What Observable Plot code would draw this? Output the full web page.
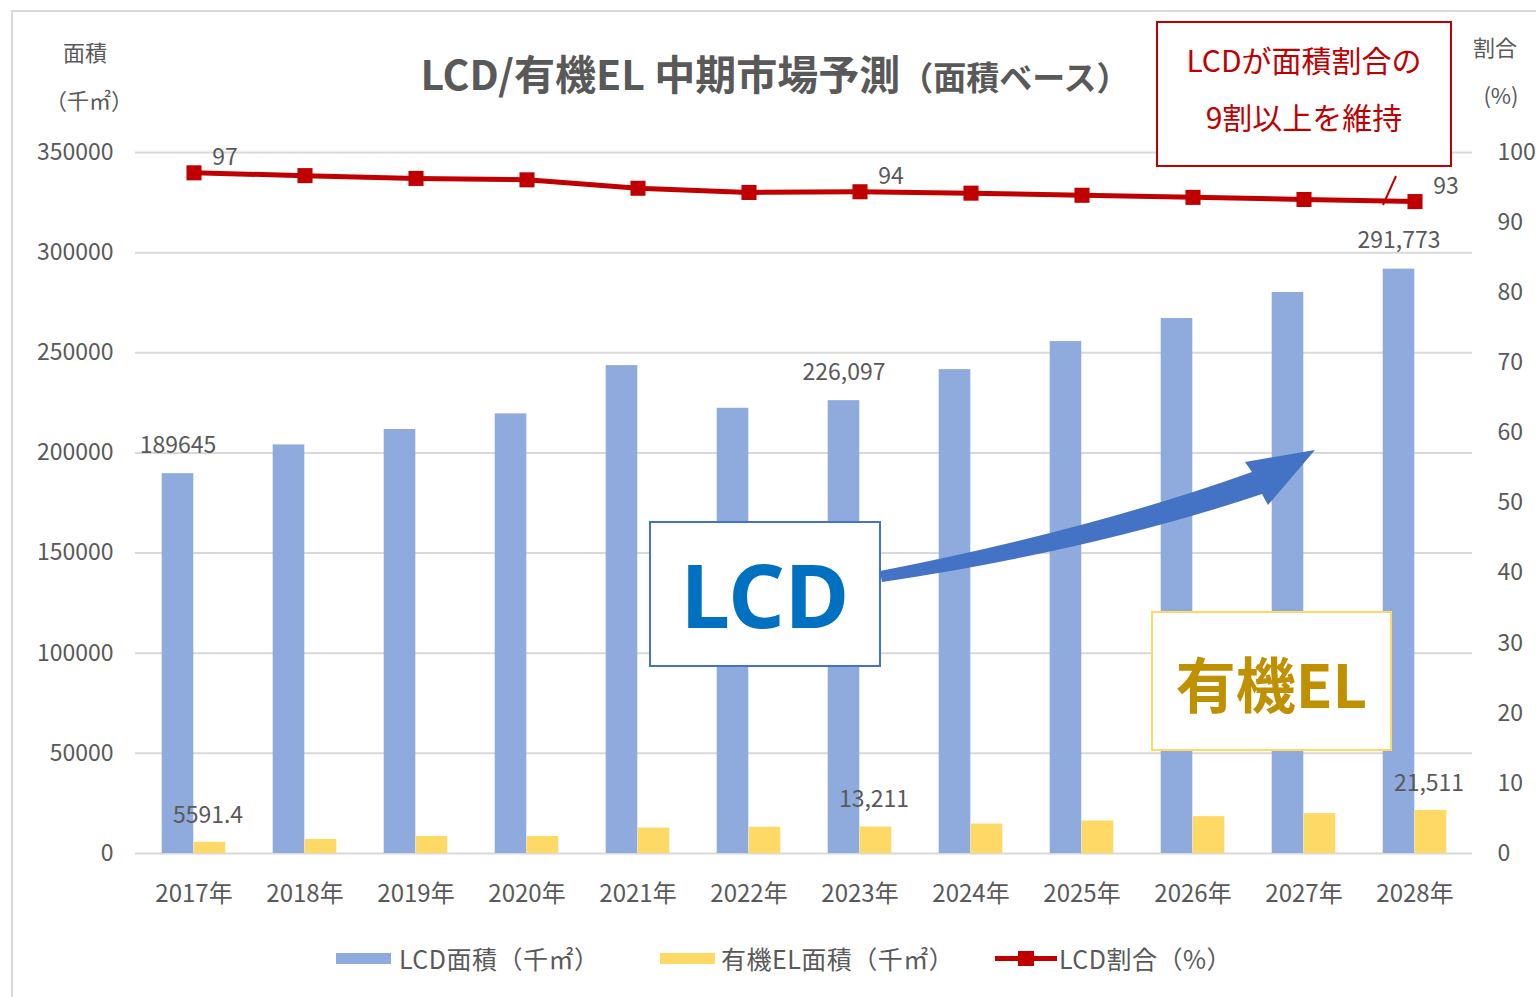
<!DOCTYPE html>
<html><head><meta charset="utf-8">
<script src="https://cdn.jsdelivr.net/npm/d3@7"></script>
<script src="https://cdn.jsdelivr.net/npm/@observablehq/plot@0.6"></script>
<style>
html,body{margin:0;padding:0;overflow:hidden;background:#fff;}
#wrap{position:relative;width:1536px;height:997px;font-family:"Noto Sans CJK JP","Noto Sans",sans-serif;color:#595959;}
#frame{position:absolute;left:11px;top:10px;width:1540px;height:1000px;border:2px solid #d9d9d9;box-sizing:border-box;}
#chart{position:absolute;left:0;top:0;}
.abs{position:absolute;white-space:nowrap;}
.box{position:absolute;background:#fff;box-sizing:border-box;display:flex;align-items:center;justify-content:center;flex-direction:column;}
</style></head>
<body><div id="wrap"><div id="frame"></div><div id="chart"></div></div>
<script>
// ---- data ----
const years = ["2017年","2018年","2019年","2020年","2021年","2022年","2023年","2024年","2025年","2026年","2027年","2028年"];
const lcdArea = [189645, 204000, 211700, 219500, 243600, 222300, 226097, 241600, 255600, 267100, 280100, 291773];
const oledArea = [5591.4, 7000, 8500, 8500, 12700, 13100, 13211, 14700, 16200, 18400, 19900, 21511];
const lcdShare = [97.1, 96.7, 96.3, 96.1, 94.9, 94.3, 94.4, 94.2, 93.9, 93.6, 93.3, 93.0];
const lcdLabels = ["189645","","","","","","226,097","","","","","291,773"];
const oledLabels = ["5591.4","","","","","","13,211","","","","","21,511"];
const shareLabels = ["97","","","","","","94","","","","","93"];
const leftTicks = [0,50000,100000,150000,200000,250000,300000,350000];
const rightTicks = [0,10,20,30,40,50,60,70,80,90,100];
const RATIO = 3500; // 100% on right axis == 350000 on left axis

const data = years.map((y,i)=>({year:y, lcd:lcdArea[i], oled:oledArea[i], share:lcdShare[i],
  lcdLabel:lcdLabels[i], oledLabel:oledLabels[i], shareLabel:shareLabels[i]}));

const BLUE="#8faadc", YELLOW="#ffd966", RED="#c00000", GRAY="#595959", GRID="#d9d9d9";
const step = (1536-135-64)/years.length, half = step/2, barW = 32;

const plot = Plot.plot({
  width:1536, height:997,
  marginTop:152, marginBottom:144, marginLeft:135, marginRight:64,
  style:{fontFamily:'"Noto Sans CJK JP","Noto Sans",sans-serif', fontSize:"23px", color:GRAY, background:"transparent"},
  x:{domain:years, padding:0, axis:null},
  y:{domain:[0,350000], axis:null},
  marks:[
    Plot.gridY(leftTicks,{stroke:GRID, strokeOpacity:1, strokeWidth:2}),
    Plot.rectY(data,{x:"year", y:"lcd", fill:BLUE, insetLeft:half-barW, insetRight:half}),
    Plot.rectY(data,{x:"year", y:"oled", fill:YELLOW, insetLeft:half, insetRight:half-barW}),
    Plot.line(data,{x:"year", y:d=>d.share*RATIO, stroke:RED, strokeWidth:5}),
    Plot.dot(data,{x:"year", y:d=>d.share*RATIO, symbol:"square", r:8.5, fill:RED}),
    Plot.text(data,{x:"year", y:"lcd", text:"lcdLabel", dx:-16, dy:-28, fill:GRAY, fontSize:23}),
    Plot.text(data,{x:"year", y:"oled", text:"oledLabel", dx:14, dy:-27, fill:GRAY, fontSize:23}),
    Plot.text(data,{x:"year", y:d=>d.share*RATIO, text:"shareLabel", dx:31, dy:-15, fill:GRAY, fontSize:23}),
    Plot.axisY(leftTicks,{anchor:"left", tickSize:0, tickPadding:22, tickFormat:d=>String(d), fill:GRAY, fontSize:23, label:null}),
    Plot.axisY(rightTicks.map(d=>d*RATIO),{anchor:"right", tickSize:0, tickPadding:25, tickFormat:d=>String(Math.round(d/RATIO)), fill:GRAY, fontSize:23, label:null}),
    Plot.axisX({tickSize:0, tickPadding:31, fill:GRAY, fontSize:24, label:null})
  ]
});
document.getElementById("chart").appendChild(plot);

const wrap = document.getElementById("wrap");
function add(html){ wrap.insertAdjacentHTML("beforeend", html); }

// title
add(`<div class="abs" style="left:0;width:1550px;top:42px;text-align:center;font-weight:bold;color:${GRAY};">
<span style="font-size:41px;">LCD/有機EL 中期市場予測</span><span style="font-size:33px;">（面積ベース）</span></div>`);
// axis titles
add(`<div class="abs" style="left:45px;width:80px;top:35px;text-align:center;font-size:22px;">面積</div>`);
add(`<div class="abs" style="left:45px;width:80px;top:83px;text-align:center;font-size:22px;">（千㎡）</div>`);
add(`<div class="abs" style="left:1460px;width:70px;top:30px;text-align:center;font-size:22px;">割合</div>`);
add(`<div class="abs" style="left:1466px;width:70px;top:78px;text-align:center;font-size:22px;">(%)</div>`);

// red annotation
add(`<div class="box" style="left:1156px;top:21px;width:296px;height:146px;border:2px solid ${RED};color:${RED};font-size:30px;line-height:57px;padding-bottom:12px;">
<div>LCDが面積割合の</div><div>9割以上を維持</div></div>`);
add(`<svg class="abs" style="left:0;top:0;" width="1536" height="997">
<line x1="1396" y1="176" x2="1383" y2="205" stroke="${RED}" stroke-width="2"/>
<path d="M 880 571 Q 1090 530 1252 472 L 1245 462 L 1315 450 L 1268 505 L 1262 494 Q 1095 550 882 582 Z" fill="#4472c4"/>
</svg>`);
// LCD box
add(`<div class="box" style="left:649px;top:521px;width:232px;height:146px;border:2px solid #4472c4;color:#0070c0;font-size:88px;font-weight:bold;font-family:'Noto Sans','Noto Sans CJK JP',sans-serif;">LCD</div>`);
// OLED box
add(`<div class="box" style="left:1151px;top:611px;width:241px;height:140px;border:2px solid ${YELLOW};color:#bf9000;font-size:60px;font-weight:bold;">有機EL</div>`);

// legend
add(`<div class="abs" style="left:336px;top:953px;width:55px;height:11px;background:${BLUE};"></div>`);
add(`<div class="abs" style="left:399px;top:940px;font-size:25px;letter-spacing:0.5px;">LCD面積（千㎡）</div>`);
add(`<div class="abs" style="left:660px;top:953px;width:55px;height:11px;background:${YELLOW};"></div>`);
add(`<div class="abs" style="left:721px;top:940px;font-size:25px;letter-spacing:0.5px;">有機EL面積（千㎡）</div>`);
add(`<div class="abs" style="left:995px;top:956px;width:62px;height:5px;background:${RED};"></div>`);
add(`<div class="abs" style="left:1018px;top:951px;width:16px;height:15px;background:${RED};"></div>`);
add(`<div class="abs" style="left:1059px;top:940px;font-size:25px;letter-spacing:0.5px;">LCD割合（%）</div>`);
</script></body></html>
